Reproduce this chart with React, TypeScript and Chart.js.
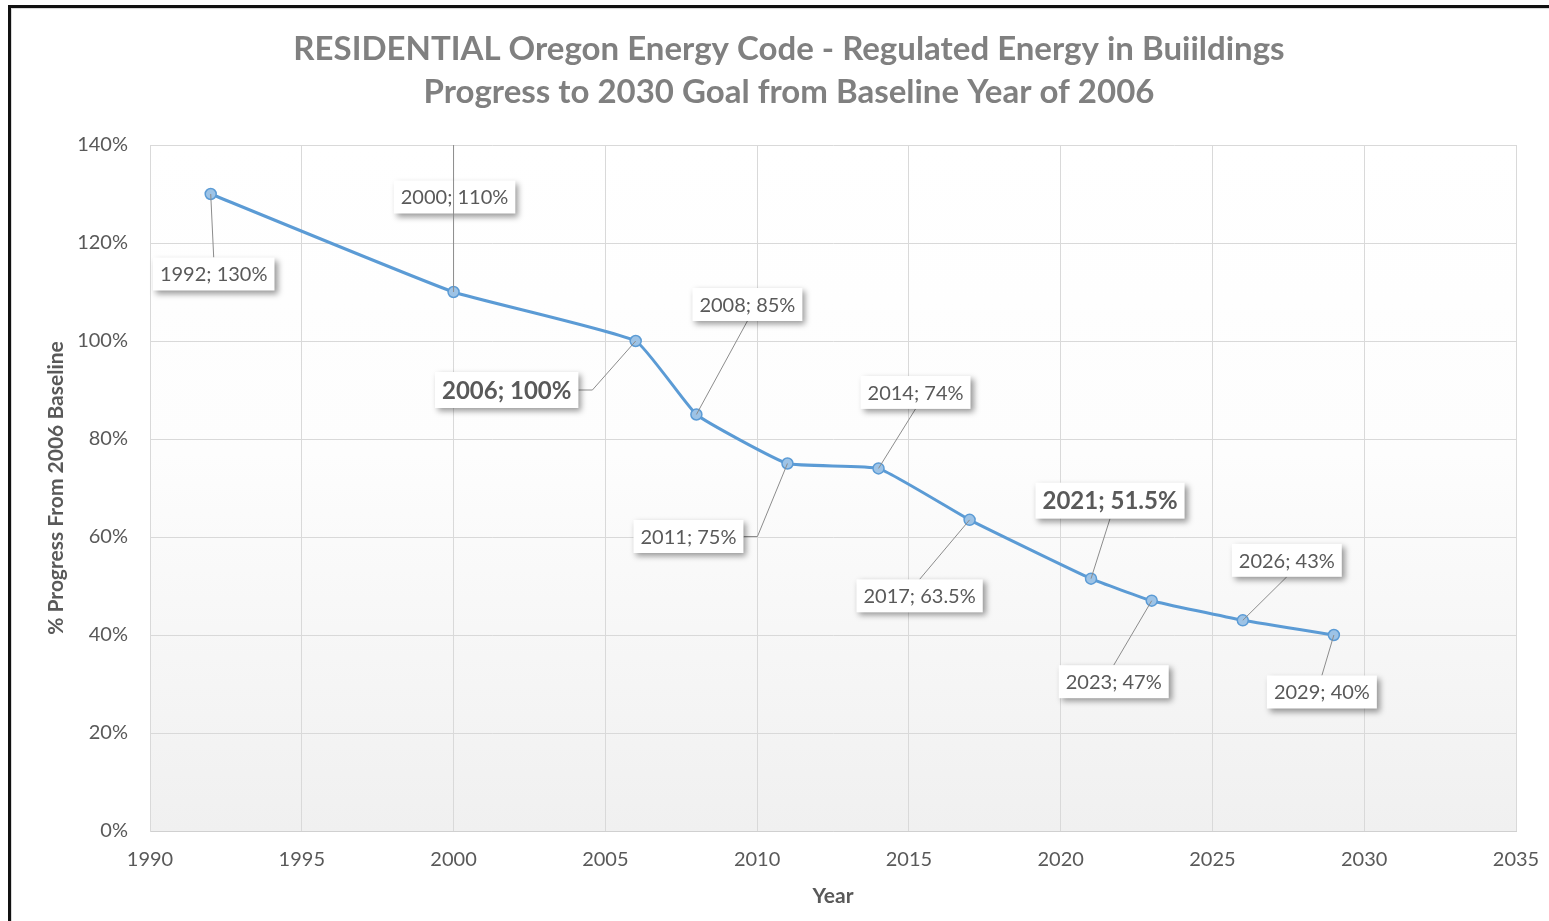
import React, { useEffect, useRef } from 'react';
import { Chart, registerables } from 'chart.js';

Chart.register(...registerables);

// ---- data ----
const years = [1992, 2000, 2006, 2008, 2011, 2014, 2017, 2021, 2023, 2026, 2029];
const progress = [130, 110, 100, 85, 75, 74, 63.5, 51.5, 47, 43, 40];
const pointLabels = [
  '1992; 130%', '2000; 110%', '2006; 100%', '2008; 85%', '2011; 75%', '2014; 74%',
  '2017; 63.5%', '2021; 51.5%', '2023; 47%', '2026; 43%', '2029; 40%',
];
const boldLabels = [false, false, true, false, false, false, false, true, false, false, false];
const xTicks = [1990, 1995, 2000, 2005, 2010, 2015, 2020, 2025, 2030, 2035];
const yTicks = [0, 20, 40, 60, 80, 100, 120, 140];
const titleLines = [
  'RESIDENTIAL Oregon Energy Code - Regulated Energy in Buiildings',
  'Progress to 2030 Goal from Baseline Year of 2006',
];
const xTitle = 'Year';
const yTitle = '% Progress From 2006 Baseline';

// ---- label placement (pixel offsets of label centre from its point) ----
const labelOffsets: [number, number][] = [
  [3, 80], [1, -95], [-129, 49], [51, -110], [-99, 73], [37, -76],
  [-50, 76], [19, -78], [-38, 81], [44, -60], [-12, 57],
];
const leaderThrough = [false, true, false, false, false, false, false, false, false, false, false];

const FONT = 'Lato, "Open Sans", sans-serif';
const TEXT = '#595959';

const decorPlugin = {
  id: 'decor',
  beforeDraw(chart: any) {
    const { ctx, chartArea: a } = chart;
    ctx.save();
    ctx.fillStyle = '#ffffff';
    ctx.fillRect(0, 0, chart.width, chart.height);
    const g = ctx.createLinearGradient(0, a.top, 0, a.bottom);
    g.addColorStop(0, '#ffffff');
    g.addColorStop(0.45, '#fdfdfd');
    g.addColorStop(1, '#f0f0f0');
    ctx.fillStyle = g;
    ctx.fillRect(a.left, a.top, a.right - a.left, a.bottom - a.top);
    // outer frame (black, left and top)
    ctx.fillStyle = '#111111';
    ctx.fillRect(8, 5, 3, chart.height - 5);
    ctx.fillRect(8, 5, chart.width - 8, 3);
    ctx.fillStyle = '#d9d9d9';
    ctx.fillRect(11, 8, 1, chart.height - 8);
    ctx.fillRect(11, 8, chart.width - 11, 1);
    // title
    ctx.fillStyle = '#808080';
    ctx.font = `bold 33px ${FONT}`;
    ctx.textAlign = 'center';
    ctx.textBaseline = 'middle';
    ctx.fillText(titleLines[0], 789, 49);
    ctx.fillText(titleLines[1], 789, 92);
    // axis titles
    ctx.fillStyle = TEXT;
    ctx.font = `bold 21px ${FONT}`;
    ctx.fillText(xTitle, 833, 896);
    ctx.translate(56, 488);
    ctx.rotate(-Math.PI / 2);
    ctx.fillText(yTitle, 0, 0);
    ctx.restore();
  },
  afterDatasetsDraw(chart: any) {
    const { ctx, chartArea: a } = chart;
    const meta = chart.getDatasetMeta(0);
    ctx.save();
    meta.data.forEach((pt: any, i: number) => {
      const px = pt.x;
      const py = pt.y;
      const [dx, dy] = labelOffsets[i];
      const cx = px + dx;
      const cy = py + dy;
      const bold = boldLabels[i];
      ctx.font = bold ? `bold 24px ${FONT}` : `20px ${FONT}`;
      const tw = ctx.measureText(pointLabels[i]).width;
      const w = tw + 14;
      const h = bold ? 36 : 33;
      const x0 = cx - w / 2, x1 = cx + w / 2, y0 = cy - h / 2, y1 = cy + h / 2;

      const drawLeader = () => {
        ctx.strokeStyle = '#8c8c8c';
        ctx.lineWidth = 1;
        ctx.beginPath();
        ctx.moveTo(px, py);
        if (leaderThrough[i]) {
          ctx.lineTo(px, a.top);
        } else if (px >= x0 - 8 && px <= x1 + 8) {
          ctx.lineTo(cx, py < y0 ? y0 : y1);
        } else if (px > x1) {
          ctx.lineTo(x1 + 14, cy);
          ctx.lineTo(x1, cy);
        } else {
          ctx.lineTo(x0 - 14, cy);
          ctx.lineTo(x0, cy);
        }
        ctx.stroke();
      };

      if (!leaderThrough[i]) drawLeader();
      ctx.save();
      ctx.shadowColor = 'rgba(0,0,0,0.4)';
      ctx.shadowBlur = 6;
      ctx.shadowOffsetX = 3;
      ctx.shadowOffsetY = 3;
      ctx.fillStyle = '#ffffff';
      ctx.fillRect(x0, y0, w, h);
      ctx.restore();
      if (leaderThrough[i]) drawLeader();
      ctx.fillStyle = TEXT;
      ctx.textAlign = 'center';
      ctx.textBaseline = 'middle';
      ctx.fillText(pointLabels[i], cx, cy + 1);
    });
    ctx.restore();
  },
};

export default function App() {
  const ref = useRef<HTMLCanvasElement | null>(null);
  useEffect(() => {
    document.body.style.margin = '0';
    const canvas = ref.current!;
    const chart = new Chart(canvas, {
      type: 'line',
      data: {
        datasets: [
          {
            data: years.map((x, i) => ({ x, y: progress[i] })),
            borderColor: '#5b9bd5',
            borderWidth: 3,
            pointRadius: 5.5,
            pointBackgroundColor: '#9dc3e6',
            pointBorderColor: '#5b9bd5',
            pointBorderWidth: 1.5,
            tension: 0.12,
          },
        ],
      },
      options: {
        responsive: false,
        animation: false,
        layout: { padding: { top: 145, right: 33, left: 0, bottom: 0 } },
        plugins: { legend: { display: false }, tooltip: { enabled: false }, title: { display: false } },
        scales: {
          x: {
            type: 'linear',
            min: xTicks[0],
            max: xTicks[xTicks.length - 1],
            afterBuildTicks: (s: any) => { s.ticks = xTicks.map((v) => ({ value: v })); },
            afterFit: (s: any) => { s.height = 90; s.paddingLeft = 0; s.paddingRight = 0; },
            ticks: { callback: (v: any) => String(v), color: TEXT, font: { family: FONT, size: 20 }, padding: 17, maxRotation: 0 },
            grid: { color: '#d9d9d9', drawTicks: false },
            border: { color: '#d0d0d0' },
          },
          y: {
            min: yTicks[0],
            max: yTicks[yTicks.length - 1],
            afterBuildTicks: (s: any) => { s.ticks = yTicks.map((v) => ({ value: v })); },
            afterFit: (s: any) => { s.width = 150; s.paddingTop = 0; s.paddingBottom = 0; },
            ticks: { callback: (v: any) => v + '%', color: TEXT, font: { family: FONT, size: 20 }, padding: 22 },
            grid: { color: '#d9d9d9', drawTicks: false },
            border: { color: '#d9d9d9' },
          },
        },
      },
      plugins: [decorPlugin],
    });
    return () => chart.destroy();
  }, []);
  return <canvas ref={ref} width={1549} height={921} style={{ display: 'block' }} />;
}
